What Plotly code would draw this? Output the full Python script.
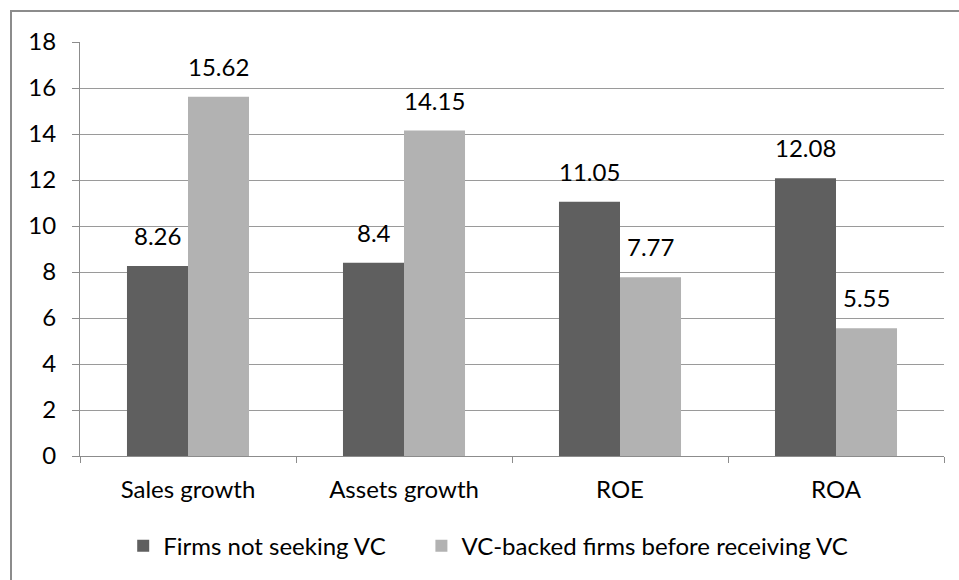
import plotly.graph_objects as go

categories = ["Sales growth", "Assets growth", "ROE", "ROA"]
series_names = ["Firms not seeking VC", "VC-backed firms before receiving VC"]
not_seeking = [8.26, 8.4, 11.05, 12.08]
vc_backed = [15.62, 14.15, 7.77, 5.55]
label_not_seeking = ["8.26", "8.4", "11.05", "12.08"]
label_vc_backed = ["15.62", "14.15", "7.77", "5.55"]
y_ticks = [0, 2, 4, 6, 8, 10, 12, 14, 16, 18]

FONT = "Lato, 'Open Sans', sans-serif"
FS = 24
PAD = "\u00a0" * 5  # visual spacing between legend entries

fig = go.Figure()
fig.add_trace(go.Bar(x=categories, y=not_seeking, name=series_names[0] + PAD,
                     marker=dict(color="#5f5f5f", line=dict(width=0))))
fig.add_trace(go.Bar(x=categories, y=vc_backed, name=series_names[1],
                     marker=dict(color="#b2b2b2", line=dict(width=0))))

annotations = []
for vals, labels, shift in [(not_seeking, label_not_seeking, -30.5), (vc_backed, label_vc_backed, 30.5)]:
    for c, v, t in zip(categories, vals, labels):
        annotations.append(dict(x=c, y=v, text=t, showarrow=False, xshift=shift, yshift=14,
                                yanchor="bottom", xanchor="center",
                                font=dict(size=FS, color="#000000", family=FONT)))

fig.update_layout(
    width=959, height=580,
    margin=dict(l=80, r=15, t=42, b=123),
    paper_bgcolor="white", plot_bgcolor="white",
    barmode="group", bargap=0.435, bargroupgap=0,
    font=dict(family=FONT, size=FS, color="#000000"),
    showlegend=True,
    legend=dict(orientation="h", x=0.05, xanchor="left", y=-0.215, yanchor="middle",
                font=dict(size=FS, family=FONT), traceorder="normal",
                bgcolor="rgba(0,0,0,0)"),
    xaxis=dict(showline=True, linecolor="#8c8c8c", linewidth=1,
               ticks="outside", ticklen=6, tickcolor="#8c8c8c", tickson="boundaries",
               showgrid=False, ticklabelstandoff=12),
    yaxis=dict(range=[0, 18], tickvals=y_ticks, showline=True, linecolor="#8c8c8c", linewidth=1,
               ticks="outside", ticklen=7, tickcolor="#8c8c8c",
               showgrid=True, gridcolor="#9a9a9a", gridwidth=1, zeroline=False,
               ticklabelstandoff=11),
    annotations=annotations,
    shapes=[dict(type="rect", xref="paper", yref="paper",
                 x0=(11 - 80) / 864, x1=1.2, y0=-0.5, y1=1 + (42 - 11) / 415,
                 line=dict(color="#8c8c8c", width=2), layer="below")],
)

fig.write_html("out.html")
